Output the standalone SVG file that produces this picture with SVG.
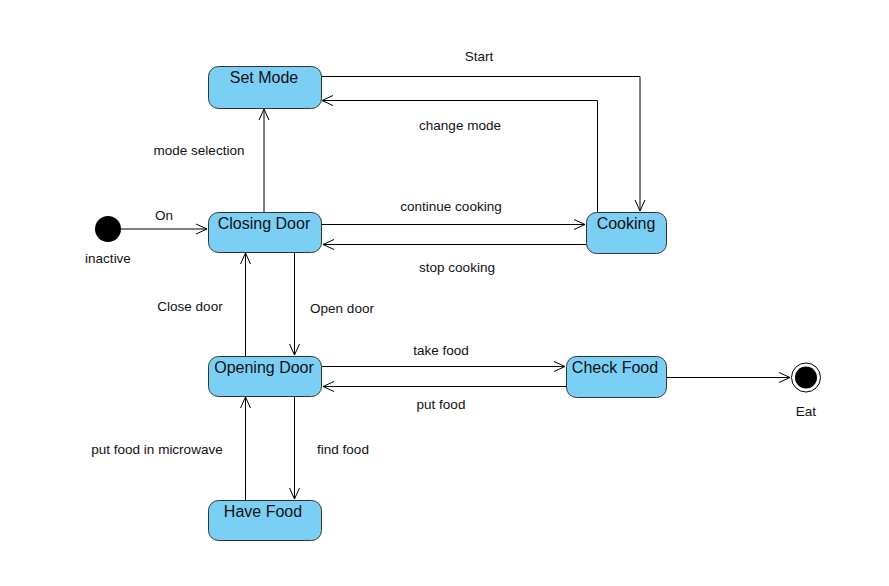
<svg xmlns="http://www.w3.org/2000/svg" width="889" height="586" viewBox="0 0 889 586">
<defs>
<style>
.node{fill:#7ccff4;stroke:#333;stroke-width:1}
.nt{font-family:"Liberation Sans",Arial,sans-serif;font-size:16px;fill:#111;text-anchor:middle}
.lbl{font-family:"Liberation Sans",Arial,sans-serif;font-size:13.5px;fill:#111;text-anchor:middle}
.c{fill:none;stroke:#000;stroke-width:1;marker-end:url(#arr)}
</style>
<marker id="arr" viewBox="0 0 12 12" refX="11" refY="6" markerWidth="12" markerHeight="12" markerUnits="userSpaceOnUse" orient="auto">
<path d="M0,1 L11,6 L0,11" fill="none" stroke="#000" stroke-width="1"/>
</marker>
</defs>
<rect width="889" height="586" fill="#fff"/>
<g id="connectors">
<path class="c" d="M121,229 H207"/>
<path class="c" d="M264,212 V109"/>
<path class="c" d="M321,76.5 H640 V211"/>
<path class="c" d="M597.5,212 V100.5 H322"/>
<path class="c" d="M322,224.5 H585"/>
<path class="c" d="M586,244.5 H323"/>
<path class="c" d="M245.5,356 V253"/>
<path class="c" d="M294.5,252 V355"/>
<path class="c" d="M322,366.5 H565"/>
<path class="c" d="M566,386.5 H323"/>
<path class="c" d="M667,377.5 H790"/>
<path class="c" d="M294.5,396 V499"/>
<path class="c" d="M245.5,500 V397"/>
<text class="lbl" x="164" y="220">On</text>
<text class="lbl" x="199" y="155">mode selection</text>
<text class="lbl" x="479" y="61">Start</text>
<text class="lbl" x="460" y="130">change mode</text>
<text class="lbl" x="451" y="211">continue cooking</text>
<text class="lbl" x="457" y="272">stop cooking</text>
<text class="lbl" x="190" y="311">Close door</text>
<text class="lbl" x="342" y="313">Open door</text>
<text class="lbl" x="441" y="355">take food</text>
<text class="lbl" x="441" y="409">put food</text>
<text class="lbl" x="157" y="454">put food in microwave</text>
<text class="lbl" x="343" y="454">find food</text>
</g>
<g id="initial">
<circle cx="108" cy="229" r="13" fill="#000"/>
<text class="lbl" x="108" y="263">inactive</text>
</g>
<g id="setmode">
<rect class="node" x="208.5" y="66.5" width="113" height="42" rx="10"/>
<text class="nt" x="264" y="83">Set Mode</text>
</g>
<g id="closingdoor">
<rect class="node" x="208.5" y="212.5" width="113" height="40" rx="10"/>
<text class="nt" x="264" y="229">Closing Door</text>
</g>
<g id="cooking">
<rect class="node" x="586.5" y="212.5" width="80" height="41" rx="10"/>
<text class="nt" x="626" y="229">Cooking</text>
</g>
<g id="openingdoor">
<rect class="node" x="208.5" y="356.5" width="113" height="40" rx="10"/>
<text class="nt" x="264" y="373">Opening Door</text>
</g>
<g id="checkfood">
<rect class="node" x="566.5" y="356.5" width="100" height="41" rx="10"/>
<text class="nt" x="615" y="373">Check Food</text>
</g>
<g id="havefood">
<rect class="node" x="208.5" y="500.5" width="113" height="40" rx="10"/>
<text class="nt" x="263" y="517">Have Food</text>
</g>
<g id="eat">
<circle cx="806" cy="377.5" r="14.5" fill="#fff" stroke="#000" stroke-width="1"/>
<circle cx="806" cy="377.5" r="11" fill="#000"/>
<text class="lbl" x="806" y="416">Eat</text>
</g>
</svg>
